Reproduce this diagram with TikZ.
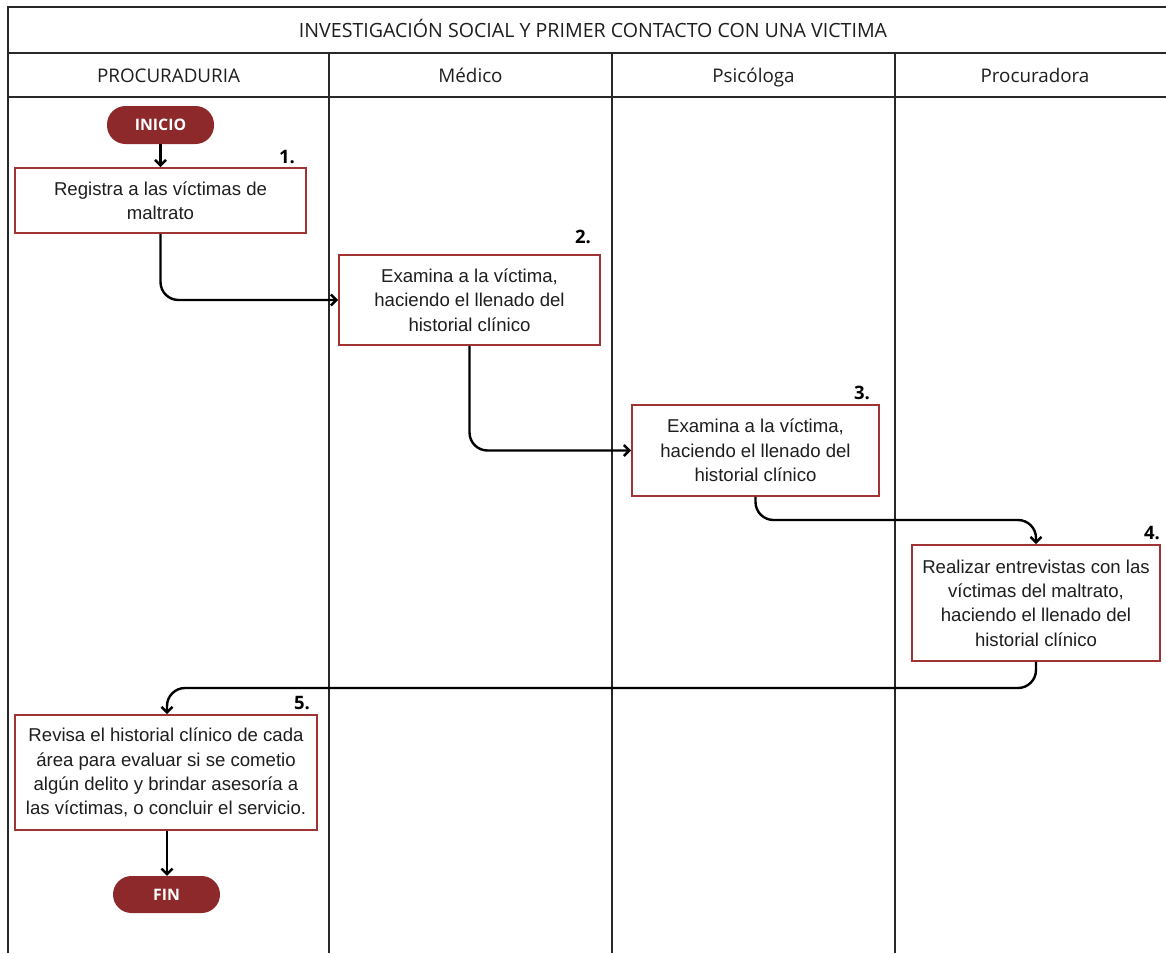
\documentclass[tikz,border=0pt]{standalone}
\usepackage{fontspec}
\usetikzlibrary{arrows.meta}
\newfontfamily\osans{Open Sans}
\newfontfamily\arialf{Liberation Sans}
\definecolor{boxred}{RGB}{160,52,52}
\definecolor{pillred}{RGB}{141,41,43}
\definecolor{frameline}{RGB}{40,40,40}
\definecolor{txt}{RGB}{30,30,30}
\begin{document}
\begin{tikzpicture}[x=1pt,y=-1pt,
  frame/.style={draw=frameline,line width=1.7pt},
  hdr/.style={font=\osans\fontsize{18.8}{22}\selectfont,text=txt,inner sep=0,anchor=base},
  procbox/.style={draw=boxred,line width=1.8pt,fill=white,align=center,inner sep=0,
    font=\arialf\fontsize{18.6}{24.3}\selectfont,text=txt},
  pill/.style={fill=pillred,rounded corners=18.5pt,inner sep=0,text=white,
    font=\osans\bfseries\fontsize{15.8}{18}\selectfont},
  numlbl/.style={font=\osans\bfseries\fontsize{18.5}{20}\selectfont,text=black,inner sep=0},
  conn/.style={draw=black,line width=2.4pt,rounded corners=18pt,
    -{Straight Barb[length=5.5pt,width=11pt,line width=2.4pt]}}
]
\useasboundingbox (0,0) rectangle (1166,953);
\clip (0,0) rectangle (1166,953);
\fill[white] (0,0) rectangle (1166,953);

% frame
\draw[frame] (8,953) -- (8,7) -- (1190,7);
\draw[frame] (8,53) -- (1190,53);
\draw[frame] (8,97) -- (1190,97);
\draw[frame] (329,53) -- (329,953);
\draw[frame] (612,53) -- (612,953);
\draw[frame] (895,53) -- (895,953);

% headers
\node[hdr,font=\osans\fontsize{19.6}{22}\selectfont] (title) at (593,37) {INVESTIGACIÓN SOCIAL Y PRIMER CONTACTO CON UNA VICTIMA};
\node[hdr] (h1) at (168.5,82) {PROCURADURIA};
\node[hdr] (h2) at (470.5,82) {Médico};
\node[hdr] (h3) at (753.5,82) {Psicóloga};
\node[hdr] (h4) at (1035,82) {Procuradora};

% nodes
\node[pill,minimum width=107pt,minimum height=38pt] (inicio) at (160.5,125) {INICIO};
\node[procbox,minimum width=291pt,minimum height=65pt] (b1) at (160.5,200.5)
  {Registra a las víctimas de\\maltrato};
\node[procbox,minimum width=261pt,minimum height=90pt] (b2) at (469.5,300)
  {Examina a la víctima,\\haciendo el llenado del\\historial clínico};
\node[procbox,minimum width=247pt,minimum height=91pt] (b3) at (755.5,450.5)
  {Examina a la víctima,\\haciendo el llenado del\\historial clínico};
\node[procbox,minimum width=248pt,minimum height=116pt] (b4) at (1036,603)
  {Realizar entrevistas con las\\víctimas del maltrato,\\haciendo el llenado del\\historial clínico};
\node[procbox,minimum width=302pt,minimum height=115pt] (b5) at (166,772.5)
  {Revisa el historial clínico de cada\\área para evaluar si se cometio\\algún delito y brindar asesoría a\\las víctimas, o concluir el servicio.};
\node[pill,minimum width=107pt,minimum height=37pt] (fin) at (166.5,894.5) {FIN};

% numbers
\node[numlbl] (n1) at (287,157) {1.};
\node[numlbl] (n2) at (583,237) {2.};
\node[numlbl] (n3) at (862,393) {3.};
\node[numlbl] (n4) at (1152,533) {4.};
\node[numlbl] (n5) at (302,703) {5.};

% connectors
\coordinate (c34) at (1036,520);
\coordinate (c45) at (167,688);
\draw[conn] (inicio.south) -- (b1.north);
\draw[conn] (b1.south) |- (b2.west);
\draw[conn] (b2.south) |- (b3.west);
\draw[conn] (b3.south) |- (c34) -- (b4.north);
\draw[conn] (b4.south) |- (c45) -- (b5.north -| c45);
\draw[conn] (b5.south -| c45) -- (fin.north -| c45);
\end{tikzpicture}
\end{document}
